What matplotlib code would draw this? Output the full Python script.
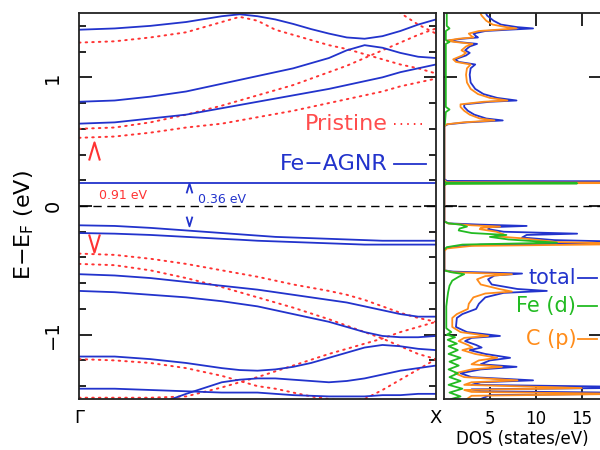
import matplotlib
matplotlib.use('Agg')
import matplotlib.pyplot as plt
import numpy as np
from matplotlib.path import Path

plt.rcParams['font.family'] = ['DejaVu Sans']
plt.rcParams['mathtext.fontset'] = 'dejavusans'

BLUE = '#2233cc'
RED = '#ff3333'
GREEN = '#22bb22'
ORANGE = '#ff8c1a'

# k path from Gamma (0) to X (1)
k = [0.0, 0.1, 0.2, 0.3, 0.4, 0.45, 0.5, 0.55, 0.6, 0.65, 0.7, 0.75, 0.8, 0.85, 0.9, 0.95, 1.0]

# Fe-AGNR bands (eV)
fe_bands = [
    [1.37, 1.38, 1.40, 1.43, 1.475, 1.49, 1.475, 1.45, 1.415, 1.375, 1.34, 1.31, 1.30, 1.32, 1.36, 1.41, 1.45],
    [0.81, 0.82, 0.85, 0.89, 0.95, 0.98, 1.01, 1.04, 1.07, 1.11, 1.15, 1.21, 1.25, 1.23, 1.19, 1.16, 1.15],
    [0.64, 0.65, 0.68, 0.71, 0.76, 0.785, 0.81, 0.835, 0.86, 0.885, 0.91, 0.94, 0.97, 1.00, 1.04, 1.07, 1.10],
    [0.18] * 17,
    [-0.15, -0.155, -0.17, -0.19, -0.21, -0.22, -0.23, -0.24, -0.245, -0.25, -0.255, -0.26, -0.265, -0.27, -0.27, -0.27, -0.27],
    [-0.21, -0.215, -0.225, -0.24, -0.255, -0.262, -0.27, -0.275, -0.28, -0.285, -0.29, -0.295, -0.30, -0.30, -0.30, -0.30, -0.30],
    [-0.53, -0.54, -0.56, -0.59, -0.62, -0.635, -0.65, -0.67, -0.69, -0.71, -0.73, -0.75, -0.78, -0.81, -0.84, -0.86, -0.86],
    [-0.66, -0.67, -0.69, -0.71, -0.74, -0.76, -0.78, -0.81, -0.84, -0.87, -0.90, -0.94, -0.98, -1.01, -1.02, -1.02, -1.01],
    [-1.17, -1.17, -1.19, -1.22, -1.26, -1.275, -1.28, -1.27, -1.25, -1.22, -1.18, -1.14, -1.10, -1.08, -1.09, -1.11, -1.12],
    [-1.42, -1.42, -1.43, -1.44, -1.45, -1.45, -1.45, -1.46, -1.47, -1.475, -1.48, -1.48, -1.48, -1.47, -1.47, -1.46, -1.46],
    [-1.62, -1.61, -1.56, -1.46, -1.37, -1.35, -1.34, -1.34, -1.35, -1.36, -1.37, -1.36, -1.34, -1.31, -1.28, -1.26, -1.24],
]

# pristine AGNR bands (eV)
pristine_bands = [
    [1.27, 1.28, 1.31, 1.35, 1.43, 1.47, 1.44, 1.37, 1.33, 1.29, 1.25, 1.22, 1.18, 1.14, 1.10, 1.07, 1.03],
    [np.nan] * 12 + [1.75, 1.62, 1.50, 1.41, 1.34],
    [0.60, 0.61, 0.65, 0.71, 0.78, 0.82, 0.86, 0.90, 0.94, 0.99, 1.04, 1.09, 1.15, 1.21, 1.27, 1.33, 1.38],
    [0.53, 0.54, 0.57, 0.61, 0.64, 0.665, 0.69, 0.715, 0.74, 0.77, 0.80, 0.83, 0.86, 0.89, 0.93, 0.96, 0.99],
    [-0.37, -0.38, -0.41, -0.45, -0.50, -0.525, -0.55, -0.58, -0.61, -0.635, -0.66, -0.69, -0.73, -0.78, -0.83, -0.87, -0.90],
    [-0.45, -0.46, -0.50, -0.56, -0.63, -0.67, -0.71, -0.75, -0.79, -0.835, -0.88, -0.93, -0.98, -1.03, -1.09, -1.15, -1.19],
    [-1.49, -1.49, -1.49, -1.48, -1.41, -1.37, -1.33, -1.285, -1.24, -1.195, -1.15, -1.11, -1.07, -1.03, -0.98, -0.94, -0.90],
    [-1.19, -1.20, -1.22, -1.26, -1.32, -1.36, -1.40, -1.42, -1.45, -1.48, -1.50, -1.52, -1.50, -1.43, -1.35, -1.27, -1.19],
]

# DOS (states/eV): energy and value pairs
total_E = [1.52, 1.48, 1.44, 1.41, 1.39, 1.38, 1.37, 1.36, 1.34, 1.32, 1.31, 1.30, 1.285, 1.275,
           1.26, 1.24, 1.21, 1.19, 1.17, 1.14, 1.12, 1.10, 1.07, 1.02, 0.96, 0.91, 0.87, 0.84,
           0.82, 0.81, 0.79, 0.77, 0.74, 0.71, 0.68, 0.665, 0.65, 0.635, 0.62, 0.21, 0.195,
           0.19, 0.185, 0.17, -0.12, -0.135, -0.145, -0.155, -0.165, -0.18, -0.20, -0.215,
           -0.225, -0.245, -0.265, -0.285, -0.30, -0.32, -0.34, -0.50, -0.51, -0.525, -0.54,
           -0.57, -0.61, -0.645, -0.66, -0.675, -0.71, -0.76, -0.80, -0.84, -0.87, -0.94,
           -0.98, -1.01, -1.025, -1.05, -1.08, -1.10, -1.12, -1.15, -1.18, -1.20, -1.23,
           -1.25, -1.27, -1.30, -1.33, -1.355, -1.37, -1.39, -1.41, -1.425, -1.44, -1.455,
           -1.47, -1.50]
total_dos = [4.4, 4.7, 5.4, 6.2, 8.0, 9.7, 7.0, 4.5, 3.2, 3.5, 3.7, 2.0, 0.4, 1.5,
             3.6, 2.8, 2.3, 2.8, 2.4, 1.2, 1.6, 3.4, 2.9, 2.8, 2.9, 3.4, 4.3, 5.8,
             7.9, 5.0, 2.2, 2.2, 2.6, 3.3, 4.6, 6.4, 2.5, 0.4, 0.05, 0.05, 0.3,
             30.0, 0.3, 0.05, 0.05, 0.5, 4.0, 9.0, 5.0, 4.8, 6.5, 14.5,
             9.0, 8.5, 12.0, 24.0, 4.0, 0.5, 0.05, 0.05, 1.0, 8.5, 5.5,
             4.8, 5.2, 8.0, 11.2, 6.5, 4.5, 3.8, 3.5, 2.0, 1.4, 1.3,
             2.5, 6.1, 3.0, 2.3, 3.5, 4.1, 2.8, 4.5, 7.2, 5.0, 4.0,
             7.9, 4.0, 1.8, 3.0, 9.7, 4.0, 3.0, 25.0, 3.0, 4.0, 25.0,
             5.0, 4.0]

cp_E = [1.52, 1.48, 1.44, 1.41, 1.39, 1.38, 1.37, 1.36, 1.34, 1.32, 1.31, 1.30, 1.285, 1.275,
        1.26, 1.24, 1.21, 1.19, 1.17, 1.14, 1.12, 1.10, 1.07, 1.02, 0.96, 0.91, 0.87, 0.84,
        0.82, 0.81, 0.79, 0.77, 0.74, 0.71, 0.68, 0.665, 0.65, 0.635, 0.62, 0.20, 0.185,
        0.18, 0.175, 0.16, -0.12, -0.135, -0.15, -0.16, -0.17, -0.18, -0.20, -0.22,
        -0.235, -0.25, -0.27, -0.28, -0.295, -0.31, -0.33, -0.35, -0.50, -0.515, -0.53,
        -0.545, -0.57, -0.61, -0.645, -0.665, -0.68, -0.71, -0.76, -0.80, -0.84, -0.87,
        -0.94, -0.98, -1.01, -1.025, -1.05, -1.08, -1.10, -1.12, -1.15, -1.18, -1.20,
        -1.23, -1.25, -1.27, -1.30, -1.33, -1.355, -1.37, -1.39, -1.415, -1.43, -1.445,
        -1.46, -1.475, -1.50]
cp_dos = [3.8, 4.1, 4.6, 5.3, 6.8, 7.9, 5.8, 3.8, 2.7, 3.0, 3.2, 1.6, 0.3, 1.2,
          3.1, 2.4, 1.9, 2.4, 2.0, 1.0, 1.3, 2.9, 2.5, 2.4, 2.5, 2.9, 3.7, 5.0,
          6.9, 4.3, 1.8, 1.8, 2.2, 2.8, 3.9, 5.5, 2.1, 0.3, 0.05, 0.05, 0.3,
          30.0, 0.3, 0.05, 0.05, 0.4, 3.0, 6.1, 4.0, 3.9, 5.7, 6.5,
          5.5, 8.3, 11.0, 12.3, 22.0, 3.0, 0.3, 0.05, 0.05, 1.0, 7.4,
          4.5, 3.6, 4.0, 6.0, 7.4, 4.5, 3.2, 2.7, 2.6, 1.4, 0.9,
          0.9, 1.8, 4.8, 2.2, 1.6, 2.6, 3.1, 2.0, 3.4, 5.8, 3.8,
          3.0, 6.3, 3.0, 1.2, 2.2, 8.0, 3.0, 2.2, 15.0, 2.2, 3.0,
          20.0, 3.0, 2.5]

fed_E = [1.52, 1.40, 1.38, 1.36, 1.29, 1.275, 1.26, 0.77, 0.75, 0.73, 0.64, 0.62, 0.19, 0.18,
         0.176, 0.172, 0.16, -0.12, -0.135, -0.145, -0.16, -0.175, -0.19, -0.21, -0.225,
         -0.24, -0.26, -0.285, -0.30, -0.32, -0.34, -0.50, -0.515, -0.53, -0.55, -0.58,
         -0.62, -0.67, -0.72, -0.78, -0.95, -0.98, -1.00, -1.02, -1.04, -1.07, -1.09,
         -1.12, -1.15, -1.18, -1.21, -1.24, -1.27, -1.30, -1.33, -1.36, -1.39, -1.42,
         -1.45, -1.48, -1.50]
fed_dos = [0.3, 0.3, 0.6, 0.2, 0.2, 0.6, 0.2, 0.2, 0.6, 0.2, 0.1, 0.0, 0.0, 0.3,
           14.5, 0.3, 0.0, 0.0, 0.5, 1.8, 2.5, 1.7, 1.6, 3.0, 6.8,
           5.0, 7.0, 12.3, 2.0, 0.3, 0.0, 0.0, 0.8, 2.2, 1.6, 0.9,
           0.6, 0.45, 0.35, 0.25, 0.25, 0.8, 0.3, 1.2, 0.4, 1.4, 0.5,
           1.5, 0.5, 1.8, 0.6, 1.6, 0.5, 1.5, 0.6, 1.8, 0.5, 2.0,
           0.6, 1.8, 0.8]

dos_ticks = [5, 10, 15]

fig = plt.figure(figsize=(6, 4.5), dpi=100)
ax1 = fig.add_axes([79 / 600, 51 / 450, 357 / 600, 386 / 450])
ax2 = fig.add_axes([444 / 600, 51 / 450, 157 / 600, 386 / 450])

# band structure
for band in pristine_bands:
    ax1.plot(k, band, color=RED, lw=1.4, linestyle=(0, (0.8, 2.6)), dash_capstyle='round')
for band in fe_bands:
    ax1.plot(k, band, color=BLUE, lw=1.3)
ax1.axhline(0, color='k', lw=1.0, dashes=(6, 4))

ax1.set_xlim(0, 1)
ax1.set_ylim(-1.5, 1.5)
ax1.set_xticks([0, 1])
ax1.set_xticklabels(['Γ', 'X'], fontsize=13)
ax1.tick_params(axis='x', length=0, pad=7)
ax1.set_yticks([-1, 0, 1])
ax1.set_yticklabels(['−1', '0', '1'], rotation=90, va='center', fontsize=14)
ax1.set_yticks(np.arange(-1.4, 1.5, 0.2), minor=True)
ax1.tick_params(axis='y', which='major', direction='in', length=9, width=1.2,
                left=True, right=True, pad=12)
ax1.tick_params(axis='y', which='minor', direction='in', length=5, width=1.2,
                left=True, right=True)
ax1.set_ylabel(r'E$-$E$_{\rm F}$ (eV)', fontsize=16)
ax1.yaxis.set_label_coords(-0.12, 0.45)

# gap markers
chev_up = Path([(-0.6, -1), (0, 1), (0.6, -1)], [Path.MOVETO, Path.LINETO, Path.LINETO])
chev_dn = Path([(-0.6, 1), (0, -1), (0.6, 1)], [Path.MOVETO, Path.LINETO, Path.LINETO])
ax1.plot([0.042], [0.43], marker=chev_up, ms=13, color=RED, mew=1.5, fillstyle='none')
ax1.plot([0.042], [-0.29], marker=chev_dn, ms=13, color=RED, mew=1.5, fillstyle='none')
ax1.plot([0.309], [0.14], marker=chev_up, ms=7, color=BLUE, mew=1.3, fillstyle='none')
ax1.plot([0.309], [-0.115], marker=chev_dn, ms=7, color=BLUE, mew=1.3, fillstyle='none')
ax1.text(0.055, 0.08, '0.91 eV', color=RED, fontsize=9, va='center')
ax1.text(0.332, 0.05, '0.36 eV', color=BLUE, fontsize=9, va='center')

# legend
ax1.text(0.865, 0.64, 'Pristine', color='#ff4d4d', fontsize=16, ha='right', va='center')
ax1.plot([0.882, 0.972], [0.64, 0.64], color=RED, lw=1.4, linestyle=(0, (0.8, 2.6)))
ax1.text(0.865, 0.33, 'Fe−AGNR', color=BLUE, fontsize=16, ha='right', va='center')
ax1.plot([0.882, 0.972], [0.33, 0.33], color=BLUE, lw=1.3)

# DOS panel
ax2.plot(total_dos, total_E, color=BLUE, lw=1.3)
ax2.plot(cp_dos, cp_E, color=ORANGE, lw=1.3)
ax2.plot(fed_dos, fed_E, color=GREEN, lw=1.3)
ax2.axhline(0, color='k', lw=1.0, dashes=(6, 4))
ax2.set_xlim(0, 17.1)
ax2.set_ylim(-1.5, 1.5)
ax2.set_xticks(dos_ticks)
ax2.set_xticklabels([str(t) for t in dos_ticks], fontsize=12)
ax2.tick_params(axis='x', direction='in', length=9, width=1.2, top=True, bottom=True, pad=8)
ax2.set_yticks([-1, 0, 1])
ax2.set_yticklabels([])
ax2.tick_params(axis='y', direction='in', length=9, width=1.2, left=True, right=True)
ax2.set_xlabel('DOS (states/eV)', fontsize=12, labelpad=1)

ax2.text(14.4, -0.56, 'total', color=BLUE, fontsize=15, ha='right', va='center')
ax2.plot([14.6, 16.7], [-0.56, -0.56], color=BLUE, lw=1.3)
ax2.text(14.4, -0.775, 'Fe (d)', color=GREEN, fontsize=15, ha='right', va='center')
ax2.plot([14.6, 16.7], [-0.775, -0.775], color=GREEN, lw=1.3)
ax2.text(14.4, -1.03, 'C (p)', color=ORANGE, fontsize=15, ha='right', va='center')
ax2.plot([14.6, 16.7], [-1.03, -1.03], color=ORANGE, lw=1.3)

for ax in (ax1, ax2):
    for s in ax.spines.values():
        s.set_linewidth(1.3)
        s.set_color('#222222')

fig.savefig('out.png', dpi=100)
